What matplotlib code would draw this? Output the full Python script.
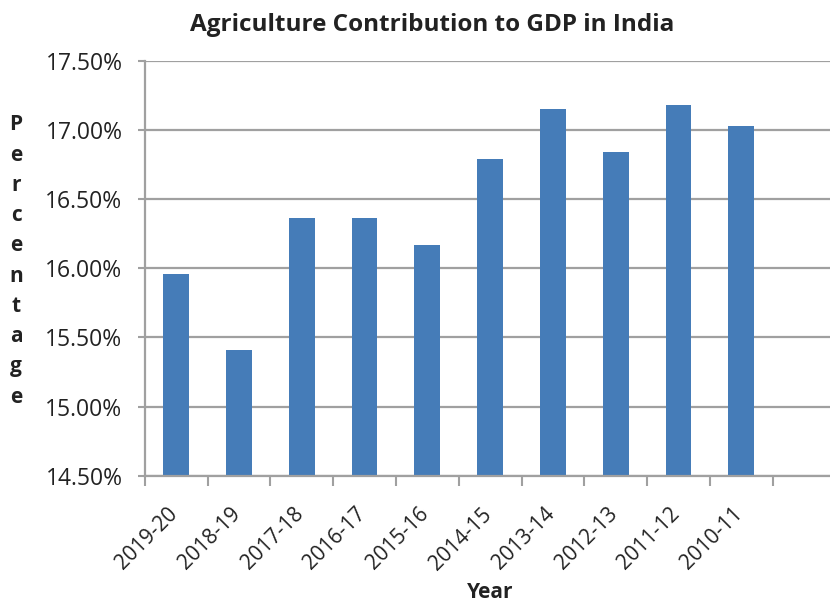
import numpy as np
import matplotlib
matplotlib.use('Agg')
import matplotlib.pyplot as plt
import matplotlib.transforms as mtransforms
from matplotlib.ticker import FuncFormatter

years = ['2019-20', '2018-19', '2017-18', '2016-17', '2015-16',
         '2014-15', '2013-14', '2012-13', '2011-12', '2010-11']
share = [15.96, 15.41, 16.36, 16.36, 16.17, 16.79, 17.15, 16.84, 17.18, 17.03]
y_ticks = [14.5, 15.0, 15.5, 16.0, 16.5, 17.0, 17.5]

plt.rcParams['font.family'] = ['Open Sans', 'DejaVu Sans']

grey = '#a0a0a0'
fig = plt.figure(figsize=(8.3, 6.04), dpi=100)
ax = fig.add_axes([144.7 / 830, 128.3 / 604, 690.8 / 830, 415 / 604])

x = np.arange(len(years))
ax.bar(x, [v - 14.5 for v in share], bottom=14.5, width=0.414,
       color='#457cb8', zorder=3)

ax.set_ylim(14.5, 17.5)
ax.set_xlim(-0.5, 10.5)
ax.set_yticks(y_ticks)
ax.yaxis.set_major_formatter(FuncFormatter(lambda v, p: '%.2f%%' % v))
ax.grid(axis='y', color=grey, linewidth=1.6, zorder=0)

# category labels at centres, tick marks at boundaries
ax.set_xticks(np.arange(-0.5, 11, 1.0))
ax.set_xticklabels([])
ax.set_xticks(x, minor=True)
ax.set_xticklabels(years, minor=True, rotation=45, ha='right',
                   rotation_mode='anchor', fontsize=15, color='#222222')
ax.tick_params(axis='x', which='minor', length=0, pad=18)
ax.tick_params(axis='x', which='major', length=7, width=1.5, color=grey)
ax.tick_params(axis='y', length=5, width=1.5, color=grey, labelsize=16.5,
               labelcolor='#222222', pad=11)

# nudge the slanted labels a bit left and down
shift = mtransforms.ScaledTranslation(-9 / 100, -3 / 100, fig.dpi_scale_trans)
for lab in ax.xaxis.get_minorticklabels():
    lab.set_transform(lab.get_transform() + shift)

for s in ['top', 'right']:
    ax.spines[s].set_visible(False)
for s in ['left', 'bottom']:
    ax.spines[s].set_color(grey)
    ax.spines[s].set_linewidth(1.6)
ax.spines['bottom'].set_zorder(4)

fig.text(432 / 830, 1 - 25 / 604, 'Agriculture Contribution to GDP in India',
         ha='center', va='center', fontsize=17.5, fontweight='bold', color='#222222')
fig.text(490 / 830, 1 - 593 / 604, 'Year', ha='center', va='center',
         fontsize=15, fontweight='bold', color='#222222')
fig.text(16 / 830, 1 - 261 / 604, '\n'.join('Percentage'), ha='center',
         va='center', fontsize=15, fontweight='bold', linespacing=1.58,
         color='#222222')

fig.savefig('out.png', dpi=100)
